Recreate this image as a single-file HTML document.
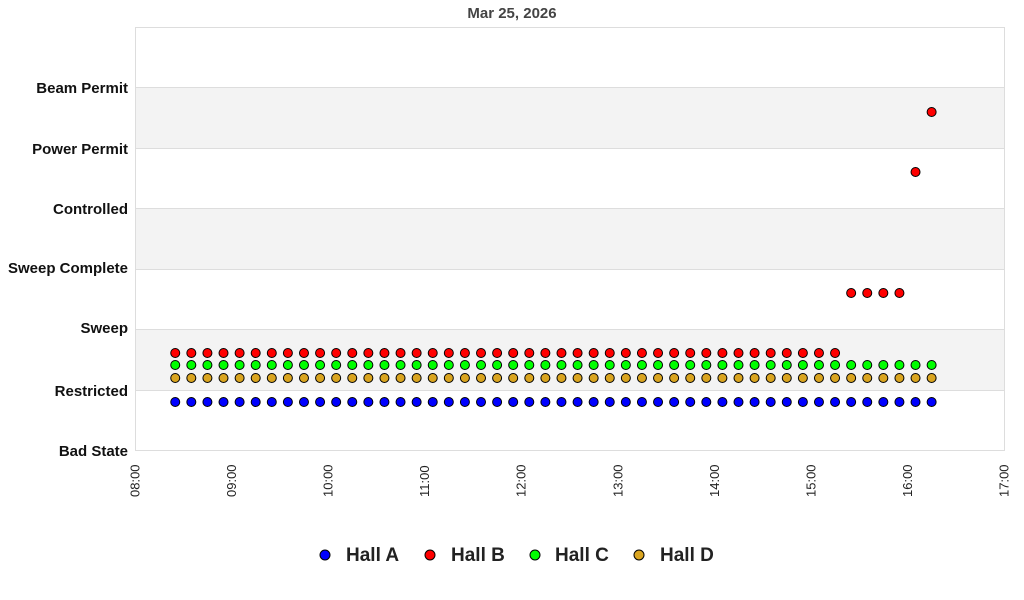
<!DOCTYPE html>
<html><head><meta charset="utf-8"><style>
html,body{margin:0;padding:0;background:#fff;}
svg{display:block;font-family:"Liberation Sans",sans-serif;}
</style></head><body>
<svg id="c" width="1024" height="600" xmlns="http://www.w3.org/2000/svg">
<rect width="1024" height="600" fill="#fff"/>
<text x="512" y="18" text-anchor="middle" font-size="15" font-weight="bold" fill="#444">Mar 25, 2026</text>
<rect x="135.5" y="27.5" width="869" height="423" fill="#fff" stroke="#ddd"/>
<rect x="136" y="88" width="868" height="60" fill="#f3f3f3"/>
<rect x="136" y="209" width="868" height="60" fill="#f3f3f3"/>
<rect x="136" y="330" width="868" height="60" fill="#f3f3f3"/>
<g stroke="#ddd"><line x1="136" x2="1004" y1="87.5" y2="87.5"/><line x1="136" x2="1004" y1="148.5" y2="148.5"/><line x1="136" x2="1004" y1="208.5" y2="208.5"/><line x1="136" x2="1004" y1="269.5" y2="269.5"/><line x1="136" x2="1004" y1="329.5" y2="329.5"/><line x1="136" x2="1004" y1="390.5" y2="390.5"/></g>
<g font-size="15" font-weight="bold" fill="#111" text-anchor="end">
<text x="128" y="93">Beam Permit</text>
<text x="128" y="154">Power Permit</text>
<text x="128" y="214">Controlled</text>
<text x="128" y="273">Sweep Complete</text>
<text x="128" y="333">Sweep</text>
<text x="128" y="396">Restricted</text>
<text x="128" y="456">Bad State</text>
</g>
<g id="ticks" font-size="13" fill="#222"></g>
<g id="pts" stroke="#000" stroke-width="1"></g>
<g font-size="19" font-weight="bold" fill="#222">
<circle cx="325" cy="555" r="5" fill="#0000ff" stroke="#000"/><text x="346" y="561">Hall A</text>
<circle cx="430" cy="555" r="5" fill="#ff0000" stroke="#000"/><text x="451" y="561">Hall B</text>
<circle cx="535" cy="555" r="5" fill="#00ff00" stroke="#000"/><text x="555" y="561">Hall C</text>
<circle cx="639" cy="555" r="5" fill="#daa520" stroke="#000"/><text x="660" y="561">Hall D</text>
</g>
</svg>
<script>
var NS="http://www.w3.org/2000/svg";
var t=document.getElementById("ticks"),p=document.getElementById("pts");
function X(h){return 135+h*96.56;}
for(var i=0;i<=9;i++){var e=document.createElementNS(NS,"text");var x=X(i)+4.5;
e.setAttribute("transform","translate("+x+",497) rotate(-90)");e.textContent=(i+8<10?"0":"")+(i+8)+":00";t.appendChild(e);}
function c(x,y,f){var e=document.createElementNS(NS,"circle");e.setAttribute("cx",x);e.setAttribute("cy",y);e.setAttribute("r",4.5);e.setAttribute("fill",f);p.appendChild(e);}
for(var k=0;k<48;k++){var h=(25+10*k)/60,x=X(h);
c(x,402,"#0000ff");c(x,378,"#daa520");c(x,365,"#00ff00");
var y=353;if(k>=42&&k<=45)y=293;if(k==46)y=172;if(k==47)y=112;
c(x,y,"#ff0000");}
</script>
</body></html>
